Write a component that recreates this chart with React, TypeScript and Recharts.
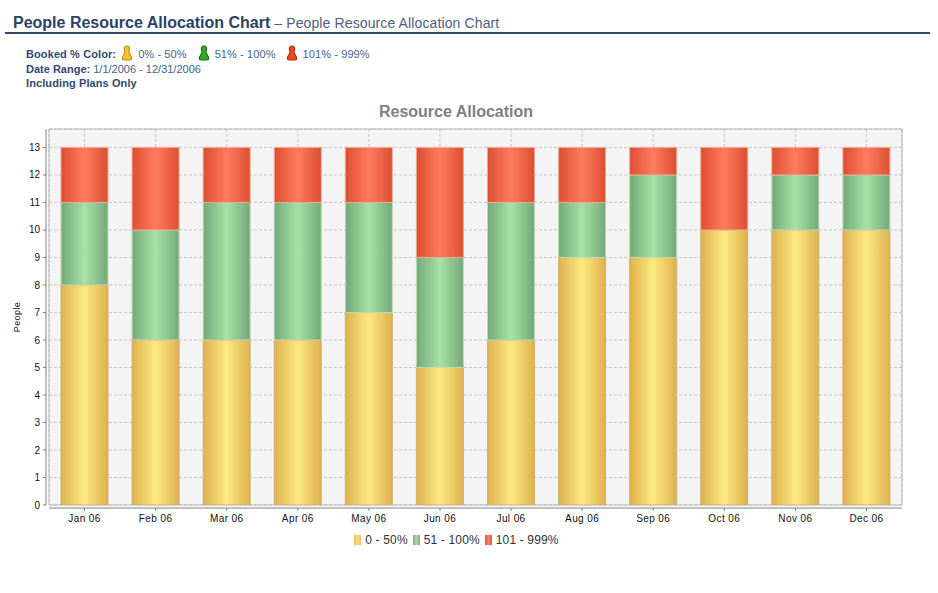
import React from "react";
import { BarChart, Bar, XAxis, YAxis, CartesianGrid, Legend, ReferenceArea } from "recharts";

const months = ["Jan 06", "Feb 06", "Mar 06", "Apr 06", "May 06", "Jun 06", "Jul 06", "Aug 06", "Sep 06", "Oct 06", "Nov 06", "Dec 06"];
const low = [8, 6, 6, 6, 7, 5, 6, 9, 9, 10, 10, 10];
const mid = [3, 4, 5, 5, 4, 4, 5, 2, 3, 0, 2, 2];
const high = [2, 3, 2, 2, 2, 4, 2, 2, 1, 3, 1, 1];
const yTicks = [0, 1, 2, 3, 4, 5, 6, 7, 8, 9, 10, 11, 12, 13];
const yMax = 13.67;

const rows = months.map((month, i) => ({ month, low: low[i], mid: mid[i], high: high[i] }));

const font = "'Liberation Sans', Arial, sans-serif";
const navy = "#2f4a72";

const grads = [
  { id: "gLow", edge: "#deb04e", center: "#fdea80", stroke: "#d0b070" },
  { id: "gMid", edge: "#73a878", center: "#a8e2a6", stroke: "#c0d8b8" },
  { id: "gHigh", edge: "#dd4e30", center: "#ff7c5e", stroke: "#eda898" },
];

const legendItems = [
  { label: "0 - 50%", from: "#e8c06a", to: "#f8dc8c" },
  { label: "51 - 100%", from: "#80b088", to: "#a8d8a8" },
  { label: "101 - 999%", from: "#e05a3c", to: "#f58068" },
];

function Pawn({ fill, stroke }: { fill: string; stroke: string }) {
  return (
    <svg width="12" height="16" viewBox="0 0 11 15" style={{ verticalAlign: "-3px" }}>
      <path d="M5.5 1 C3.6 1 2.8 2.4 3 3.8 C3.2 5 3.6 5.6 3.6 6.4 C3.4 8.6 1 10.6 1 12.6 C1 13.6 2 14 3 14 L8 14 C9 14 10 13.6 10 12.6 C10 10.6 7.6 8.6 7.4 6.4 C7.4 5.6 7.8 5 8 3.8 C8.2 2.4 7.4 1 5.5 1 Z" fill={fill} stroke={stroke} strokeWidth="1" />
    </svg>
  );
}

function ChartLegend() {
  return (
    <div style={{ display: "flex", justifyContent: "center", alignItems: "center", fontFamily: font, fontSize: 12, letterSpacing: 0.15, color: "#333" }}>
      {legendItems.map((it) => (
        <span key={it.label} style={{ display: "inline-flex", alignItems: "center", marginRight: 5 }}>
          <span style={{ width: 7, height: 10, marginRight: 4, background: `linear-gradient(90deg, ${it.from}, ${it.to}, ${it.from})` }} />
          {it.label}
        </span>
      ))}
    </div>
  );
}

export default function App() {
  return (
    <div style={{ position: "absolute", left: 0, top: 0, width: 938, height: 593, background: "#fff", overflow: "hidden", fontFamily: font }}>
      <div style={{ position: "absolute", left: 13, top: 13, whiteSpace: "nowrap", color: navy, lineHeight: "20px" }}>
        <span style={{ fontSize: 16, fontWeight: 700, color: "#2b4268" }}>People Resource Allocation Chart</span>
        <span style={{ fontSize: 14, color: "#4c6080", letterSpacing: 0.12 }}> – People Resource Allocation Chart</span>
      </div>
      <div style={{ position: "absolute", left: 5, top: 32, width: 925, height: 2, background: "#34485f" }} />
      <div style={{ position: "absolute", left: 26, top: 45, whiteSpace: "nowrap", fontSize: 11, lineHeight: "15px", color: "#44618a", letterSpacing: 0.1 }}>
        <div style={{ height: 15 }}>
          <b style={{ color: navy }}>Booked % Color:</b>
          <span style={{ marginLeft: 5 }}><Pawn fill="#f4c430" stroke="#b98a10" /></span>
          <span style={{ marginLeft: 5 }}>0% - 50%</span>
          <span style={{ marginLeft: 11 }}><Pawn fill="#35a82e" stroke="#126b12" /></span>
          <span style={{ marginLeft: 5 }}>51% - 100%</span>
          <span style={{ marginLeft: 10 }}><Pawn fill="#ef4a1e" stroke="#a82a10" /></span>
          <span style={{ marginLeft: 5 }}>101% - 999%</span>
        </div>
        <div style={{ height: 15, marginTop: 2, letterSpacing: 0 }}><b style={{ color: navy }}>Date Range:</b> 1/1/2006 - 12/31/2006</div>
        <div style={{ height: 15, marginTop: -1 }}><b style={{ color: navy }}>Including Plans Only</b></div>
      </div>
      <div style={{ position: "absolute", left: 0, top: 102, width: 912, textAlign: "center", fontSize: 16, fontWeight: 700, color: "#808080", lineHeight: "20px" }}>
        Resource Allocation
      </div>
      <BarChart
        width={938}
        height={593}
        data={rows}
        margin={{ top: 129, right: 36, bottom: 43, left: 0 }}
        barCategoryGap={0}
        style={{ position: "absolute", left: 0, top: 0 }}
      >
        <defs>
          {grads.map((g) => (
            <linearGradient key={g.id} id={g.id} x1="0" y1="0" x2="1" y2="0">
              <stop offset="0" stopColor={g.edge} />
              <stop offset="0.5" stopColor={g.center} />
              <stop offset="1" stopColor={g.edge} />
            </linearGradient>
          ))}
        </defs>
        <XAxis xAxisId="gap" dataKey="month" height={3} tick={false} axisLine={false} tickLine={false} />
        <XAxis
          xAxisId="main"
          dataKey="month"
          height={28}
          interval={0}
          stroke="#808080"
          tickSize={3}
          tick={{ fontSize: 10, fill: "#111", fontFamily: font, letterSpacing: 0.4, dy: 2 }}
        />
        <YAxis yAxisId="gap" width={3} domain={[0, yMax]} ticks={yTicks} tick={false} axisLine={false} tickLine={false} />
        <YAxis
          yAxisId="main"
          width={46}
          domain={[0, yMax]}
          ticks={yTicks}
          interval={0}
          allowDataOverflow
          stroke="#808080"
          tickSize={3}
          tick={{ fontSize: 10, fill: "#111", fontFamily: font, dx: -1 }}
          label={{ value: "People", angle: -90, position: "insideLeft", offset: 17, style: { fontSize: 9, fill: "#111", fontFamily: font, letterSpacing: 0.4, textAnchor: "middle" } }}
        />
        <CartesianGrid xAxisId="main" yAxisId="main" strokeDasharray="3 2" stroke="#c6c6c6" fill="#f4f4f4" fillOpacity={1} />
        <ReferenceArea xAxisId="main" yAxisId="main" y1={0} y2={yMax} fill="none" stroke="#b8b8b8" strokeWidth={1} />
        {[{ k: "low", g: grads[0], n: legendItems[0].label }, { k: "mid", g: grads[1], n: legendItems[1].label }, { k: "high", g: grads[2], n: legendItems[2].label }].map(({ k, g, n }) => (
          <Bar key={k} xAxisId="main" yAxisId="main" dataKey={k} name={n} stackId="people" barSize={47} fill={`url(#${g.id})`} stroke={g.stroke} strokeWidth={1} isAnimationActive={false} />
        ))}
        <Legend content={<ChartLegend />} wrapperStyle={{ left: 3, width: 912, top: 533, bottom: "auto" }} />
      </BarChart>
    </div>
  );
}
